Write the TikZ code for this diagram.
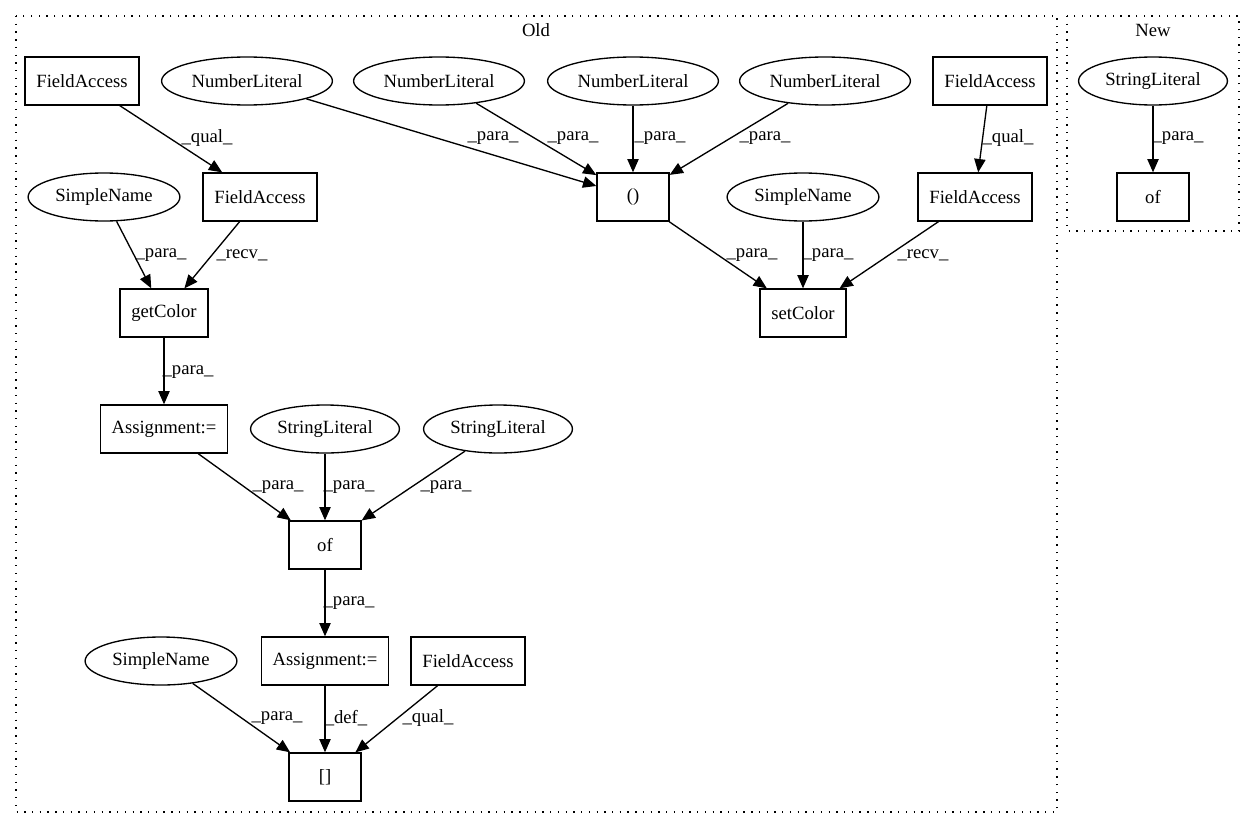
\documentclass[tikz,border=0pt]{standalone}
\usepackage{fontspec}
\setmainfont{Liberation Serif}
\usetikzlibrary{shapes.geometric,arrows.meta}
\newcommand{\gvfont}{\fontsize{14}{16}\selectfont}
\begin{document}
\begin{tikzpicture}[x=0.75pt, y=-0.75pt,
	box/.style = {draw, rectangle, line width=1pt, minimum width=54pt, minimum height=36pt, inner xsep=8.5pt, font=\gvfont},
	oval/.style = {draw, ellipse, line width=1pt, minimum height=36pt, inner xsep=3.7pt, font=\gvfont},
	lbl/.style = {inner sep=0pt, font=\gvfont},
	edge/.style = {-{Triangle[length=10pt,width=8.5pt]}, line width=1pt},
	grp/.style = {line width=1pt, dash pattern=on 1pt off 4.8pt}]
	\useasboundingbox (0,0) rectangle (1255,828);
	% Ryhmat
	\draw[grp] (16,16) rectangle (1057,812);
	\draw[grp] (1067,16) rectangle (1239,231);
	\node[lbl] (old) at (536,30) {Old};
	\node[lbl] (new) at (1153,30) {New};
	% Solmut
	\node[box] (fa1) at (82,81) {FieldAccess};
	\node[oval] (nl1) at (247,81) {NumberLiteral};
	\node[oval] (nl2) at (439,81) {NumberLiteral};
	\node[oval] (nl3) at (633,81) {NumberLiteral};
	\node[oval] (nl4) at (825,81) {NumberLiteral};
	\node[box] (fa2) at (990,81) {FieldAccess};
	\node[oval] (sn1) at (104,197) {SimpleName};
	\node[box] (fa3) at (260,197) {FieldAccess};
	\node[box] (par) at (633,197) {()};
	\node[oval] (sn2) at (803,197) {SimpleName};
	\node[box] (fa4) at (975,197) {FieldAccess};
	\node[box] (getc) at (164,313) {getColor};
	\node[box] (setc) at (803,313) {setColor};
	\node[box] (as1) at (164,429) {Assignment:=};
	\node[oval] (sl1) at (325,429) {StringLiteral};
	\node[oval] (sl2) at (498,429) {StringLiteral};
	\node[box] (of1) at (325,545) {of};
	\node[oval] (sn3) at (161,661) {SimpleName};
	\node[box] (as2) at (325,661) {Assignment:=};
	\node[box] (fa5) at (468,661) {FieldAccess};
	\node[box] (arr) at (325,777) {[]};
	\node[oval] (slN) at (1153,81) {StringLiteral};
	\node[box] (ofN) at (1153,197) {of};
	% Kaaret
	\draw[edge] (fa1) -- (fa3) node[lbl] at (207,138) {\_qual\_};		% fa1 fa3
	\draw[edge] (nl1) -- (par) node[lbl] at (493,138) {\_para\_};		% nl1 par
	\draw[edge] (nl2) -- (par) node[lbl] at (573,138) {\_para\_};		% nl2 par
	\draw[edge] (nl3) -- (par) node[lbl] at (660,138) {\_para\_};		% nl3 par
	\draw[edge] (nl4) -- (par) node[lbl] at (765,138) {\_para\_};		% nl4 par
	\draw[edge] (fa2) -- (fa4) node[lbl] at (1008,138) {\_qual\_};		% fa2 fa4
	\draw[edge] (slN) -- (ofN) node[lbl] at (1178,138) {\_para\_};		% slN ofN
	\draw[edge] (sn1) -- (getc) node[lbl] at (161,255) {\_para\_};		% sn1 getc
	\draw[edge] (fa3) -- (getc) node[lbl] at (242,255) {\_recv\_};		% fa3 getc
	\draw[edge] (par) -- (setc) node[lbl] at (752,255) {\_para\_};		% par setc
	\draw[edge] (sn2) -- (setc) node[lbl] at (828,255) {\_para\_};		% sn2 setc
	\draw[edge] (fa4) -- (setc) node[lbl] at (923,255) {\_recv\_};		% fa4 setc
	\draw[edge] (getc) -- (as1) node[lbl] at (188,372) {\_para\_};		% getc as1
	\draw[edge] (as1) -- (of1) node[lbl] at (278,487) {\_para\_};		% as1 of1
	\draw[edge] (sl1) -- (of1) node[lbl] at (349,487) {\_para\_};		% sl1 of1
	\draw[edge] (sl2) -- (of1) node[lbl] at (446,487) {\_para\_};		% sl2 of1
	\draw[edge] (of1) -- (as2) node[lbl] at (349,603) {\_para\_};		% of1 as2
	\draw[edge] (sn3) -- (arr) node[lbl] at (277,718) {\_para\_};		% sn3 arr
	\draw[edge] (as2) -- (arr) node[lbl] at (346,718) {\_def\_};		% as2 arr
	\draw[edge] (fa5) -- (arr) node[lbl] at (428,718) {\_qual\_};		% fa5 arr
\end{tikzpicture}
\end{document}
